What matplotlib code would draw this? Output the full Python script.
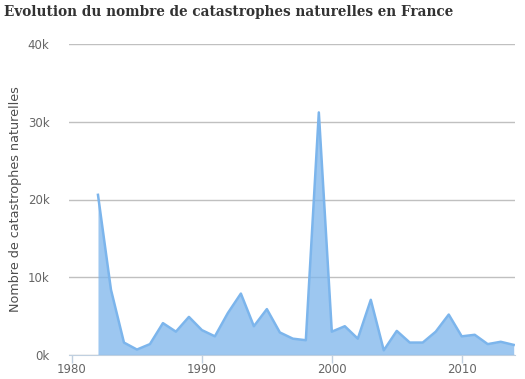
import matplotlib.pyplot as plt
from matplotlib.ticker import FuncFormatter

years = list(range(1982, 2015))
counts = [20600, 8400, 1600, 700, 1400, 4100, 3000, 4900, 3200, 2400,
          5400, 7900, 3700, 5900, 2900, 2100, 1900, 31200, 3000, 3700,
          2100, 7100, 600, 3100, 1600, 1600, 3000, 5200, 2400, 2600,
          1400, 1700, 1300]

title = "Evolution du nombre de catastrophes naturelles en France"
ylabel = "Nombre de catastrophes naturelles"

fig = plt.figure(figsize=(5.25, 3.79), dpi=100)
ax = fig.add_axes([69 / 525, 24 / 379, 446 / 525, 311 / 379])

ax.fill_between(years, counts, color="#7cb5ec", alpha=0.75, linewidth=0)
ax.plot(years, counts, color="#7cb5ec", linewidth=1.8)

ax.set_xlim(1979.77, 2014.1)
ax.set_ylim(0, 40000)
ax.set_xticks([1980, 1990, 2000, 2010])
ax.set_yticks([0, 10000, 20000, 30000, 40000])
ax.yaxis.set_major_formatter(FuncFormatter(lambda v, p: f"{int(v / 1000)}k"))

ax.grid(axis="y", color="#c0c0c0", linewidth=1)
ax.set_axisbelow(True)
for s in ["top", "right", "left"]:
    ax.spines[s].set_visible(False)
ax.spines["bottom"].set_color("#c0d0e0")
ax.tick_params(axis="x", colors="#c0d0e0", length=6, width=1, labelcolor="#666666",
               labelsize=8.5, pad=0)
ax.tick_params(axis="y", length=0, labelcolor="#666666", labelsize=8.5, pad=14)

ax.set_ylabel(ylabel, color="#4d4d4d", fontsize=9.2, labelpad=4)

fig.text(4 / 525, 1 - 12 / 379, title, fontsize=9.8, fontweight="bold",
         family="DejaVu Serif", color="#333333", va="center", ha="left")

fig.savefig("out.png", dpi=100)
